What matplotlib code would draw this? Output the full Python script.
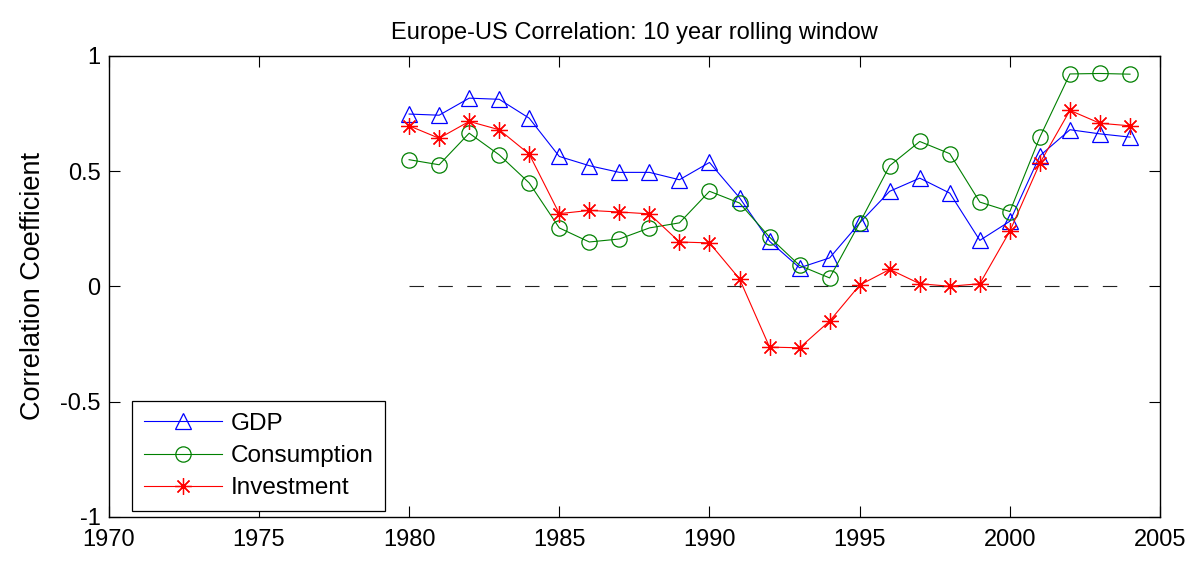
import matplotlib.pyplot as plt

plt.rcParams['font.family'] = ['Liberation Sans', 'DejaVu Sans']

years = list(range(1980, 2005))
gdp = [0.748, 0.743, 0.817, 0.812, 0.730, 0.564, 0.524, 0.495, 0.495, 0.463,
       0.538, 0.385, 0.196, 0.081, 0.124, 0.276, 0.413, 0.470, 0.405, 0.200,
       0.283, 0.567, 0.680, 0.662, 0.648]
consumption = [0.550, 0.528, 0.665, 0.571, 0.449, 0.254, 0.193, 0.206, 0.254, 0.276,
               0.413, 0.362, 0.214, 0.091, 0.037, 0.276, 0.524, 0.629, 0.576, 0.366,
               0.325, 0.648, 0.922, 0.924, 0.921]
investment = [0.697, 0.643, 0.716, 0.680, 0.574, 0.316, 0.330, 0.323, 0.315, 0.193,
              0.189, 0.033, -0.263, -0.266, -0.150, 0.006, 0.074, 0.012, 0.001, 0.012,
              0.240, 0.535, 0.764, 0.708, 0.697]

fig = plt.figure(figsize=(12.04, 5.67), dpi=100)
ax = fig.add_axes([0.0903, 0.0882, 0.8732, 0.8131])

ax.plot(years, gdp, color='blue', lw=0.8, marker='^', ms=12, mfc='none', mew=0.9, label='GDP')
ax.plot(years, consumption, color='green', lw=0.8, marker='o', ms=11, mfc='none', mew=0.9, label='Consumption')
ax.plot(years, investment, color='red', lw=0.8, marker=(8, 2, 0), ms=12, mew=0.9, label='Investment')
ax.plot([years[0], years[-1]], [0, 0], color='#222222', lw=0.8, ls=(0, (13, 13)))

ax.set_xlim(1970, 2005)
ax.set_ylim(-1, 1)
ax.set_xticks(range(1970, 2006, 5))
ax.set_yticks([-1, -0.5, 0, 0.5, 1])
ax.set_yticklabels(['-1', '-0.5', '0', '0.5', '1'])
ax.tick_params(direction='in', top=True, right=True, labelsize=17, length=8, width=0.8)
ax.tick_params(axis='x', pad=9)
ax.tick_params(axis='y', pad=6)
for s in ax.spines.values():
    s.set_linewidth(1.0)

ax.set_title('Europe-US Correlation: 10 year rolling window', fontsize=17, pad=12)
ax.set_ylabel('Correlation Coefficient', fontsize=19.5, labelpad=10)

leg = ax.legend(loc='lower left', bbox_to_anchor=(0.022, 0.012), fontsize=17.5, handlelength=3.2,
                fancybox=False, edgecolor='black', framealpha=1, borderpad=0.5, labelspacing=0.42,
                handletextpad=0.35, borderaxespad=0)
leg.get_frame().set_linewidth(0.9)

fig.savefig('out.png', dpi=100)
